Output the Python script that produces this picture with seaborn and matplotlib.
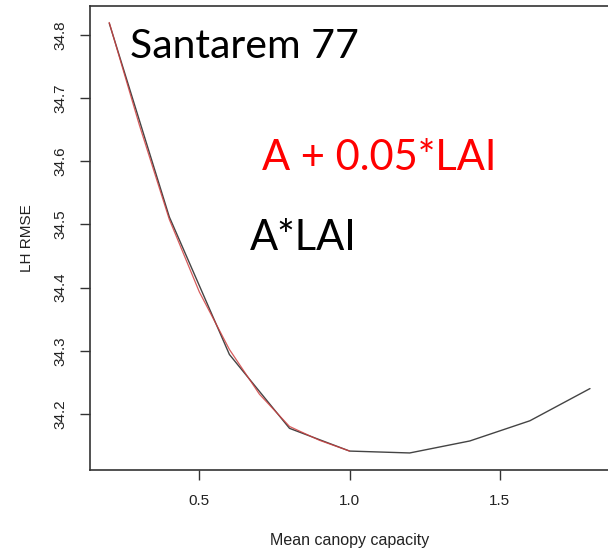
import matplotlib
matplotlib.use("Agg")
import matplotlib.pyplot as plt
import seaborn as sns
import pandas as pd

# Data
x_black = [0.2, 0.4, 0.6, 0.8, 1.0, 1.2, 1.4, 1.6, 1.8]
y_black = [34.819, 34.512, 34.294, 34.177, 34.141, 34.138, 34.157, 34.189, 34.240]
x_red = [0.2, 0.3, 0.4, 0.5, 0.6, 0.7, 0.8, 0.9, 1.0]
y_red = [34.820, 34.658, 34.508, 34.393, 34.302, 34.231, 34.180, 34.158, 34.141]
x_ticks = [0.5, 1.0, 1.5]
y_ticks = [34.2, 34.3, 34.4, 34.5, 34.6, 34.7, 34.8]
title_text = "Santarem 77"
red_label = "A + 0.05*LAI"
black_label = "A*LAI"

sns.set_style("white")
plt.rcParams['font.family'] = ['Liberation Sans', 'DejaVu Sans']

fig = plt.figure(figsize=(6.08, 5.51), dpi=100)
ax = fig.add_axes([0.148, 0.147, 0.854, 0.842])

df_b = pd.DataFrame({"x": x_black, "y": y_black})
df_r = pd.DataFrame({"x": x_red, "y": y_red})
sns.lineplot(data=df_b, x="x", y="y", ax=ax, color="#444444", linewidth=1.0)
sns.lineplot(data=df_r, x="x", y="y", ax=ax, color="#d04040", linewidth=0.9, alpha=0.85)

ax.set_xlim(0.136, 1.864)
ax.set_ylim(34.111, 34.846)
ax.set_xticks(x_ticks)
ax.set_xticklabels([f"{v:.1f}" for v in x_ticks], fontsize=11, color="#222222")
ax.set_yticks(y_ticks)
ax.set_yticklabels([f"{v:.1f}" for v in y_ticks], fontsize=11, rotation=90,
                   va="center", color="#222222")
ax.tick_params(axis="both", direction="out", length=7.2, width=1, color="#333333",
               left=True, bottom=True)
ax.tick_params(axis="x", pad=10)
ax.tick_params(axis="y", pad=9)
for s in ax.spines.values():
    s.set_color("#333333")
    s.set_linewidth(1.2)
ax.set_xlabel("Mean canopy capacity", fontsize=11.5, labelpad=18, color="#222222")
ax.set_ylabel("LH RMSE", fontsize=11, labelpad=14, color="#222222")

fig.text(130/608, 1 - 47/551, title_text, fontsize=29.5, color="black",
         family=["Lato", "DejaVu Sans"], va="center", ha="left")
fig.text(262/608, 1 - 158/551, red_label, fontsize=30, color="#ff0000",
         family=["Lato", "DejaVu Sans"], va="center", ha="left")
fig.text(250/608, 1 - 238/551, black_label, fontsize=30, color="black",
         family=["Lato", "DejaVu Sans"], va="center", ha="left")

fig.savefig("out.png", dpi=100)
